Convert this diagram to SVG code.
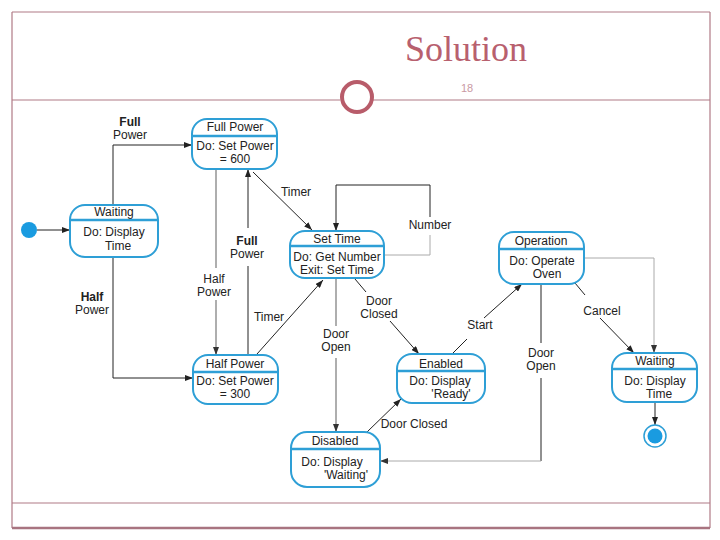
<svg xmlns="http://www.w3.org/2000/svg" width="720" height="540" viewBox="0 0 720 540">
<defs>
<marker id="arr" markerWidth="8" markerHeight="6" refX="8" refY="3" orient="auto" markerUnits="userSpaceOnUse">
<path d="M0,0 L8,3 L0,6 z" fill="#222"/>
</marker>
<marker id="arrg" markerWidth="8" markerHeight="6" refX="8" refY="3" orient="auto" markerUnits="userSpaceOnUse">
<path d="M0,0 L8,3 L0,6 z" fill="#333"/>
</marker>
</defs>
<style>
.frame{fill:none;stroke:#b07a85;stroke-width:1.2}
.box{fill:#fff;stroke:#2e9fd6;stroke-width:2}
.div{stroke:#2e9fd6;stroke-width:2.5}
.nt{font-family:"Liberation Sans",Arial,sans-serif;font-size:12px;fill:#222;text-anchor:middle}
.lb{font-family:"Liberation Sans",Arial,sans-serif;font-size:12px;fill:#222;text-anchor:middle}
.b{font-weight:bold}
.k{fill:none;stroke:#222;stroke-width:1}
.g{fill:none;stroke:#9a9a9a;stroke-width:1.6}
.gl{fill:none;stroke:#aaa;stroke-width:1}
</style>
<rect width="720" height="540" fill="#fff"/>
<g id="slide">
<line class="frame" x1="12" y1="12" x2="710" y2="12"/>
<line class="frame" x1="12" y1="12" x2="12" y2="528"/>
<line class="frame" x1="710" y1="12" x2="710" y2="528"/>
<line x1="12" y1="528" x2="710" y2="528" stroke="#a87480" stroke-width="2.5"/>
<line class="frame" x1="12" y1="503" x2="710" y2="503"/>
<line class="frame" x1="12" y1="100" x2="340" y2="100"/>
<line class="frame" x1="373" y1="100" x2="710" y2="100"/>
<circle cx="357" cy="97" r="15" fill="#fff" stroke="#b85c6a" stroke-width="4"/>
<text x="466" y="61" font-family="Liberation Serif,Times New Roman,serif" font-size="36" fill="#b8606e" text-anchor="middle">Solution</text>
<text x="467" y="92" font-family="Liberation Sans,Arial,sans-serif" font-size="11" fill="#c99aa3" text-anchor="middle">18</text>
</g>
<g id="connectors">
<line class="k" x1="37" y1="230" x2="70" y2="230" marker-end="url(#arr)"/>
<polyline class="k" points="113,205 113,145 192,145" marker-end="url(#arr)"/>
<polyline class="k" points="113,257 113,378 193,378" marker-end="url(#arr)"/>
<line class="g" x1="216" y1="169" x2="216" y2="268"/>
<line class="g" x1="216" y1="300" x2="216" y2="355" marker-end="url(#arrg)"/>
<line class="k" x1="248" y1="355" x2="248" y2="266"/>
<line class="k" x1="248" y1="228" x2="248" y2="169" marker-end="url(#arr)"/>
<line class="k" x1="253" y1="172" x2="312" y2="230" marker-end="url(#arr)"/>
<line class="k" x1="257" y1="354" x2="323" y2="280" marker-end="url(#arr)" stroke-width="0.8"/>
<polyline class="k" points="430,217 430,185 336,185 336,231" marker-end="url(#arr)"/>
<polyline class="gl" points="384,255 430,255 430,235"/>
<line class="g" x1="336" y1="278" x2="336" y2="326"/>
<line class="g" x1="336" y1="358" x2="336" y2="432" marker-end="url(#arrg)"/>
<line class="k" x1="355" y1="279" x2="366" y2="292"/>
<line class="k" x1="390" y1="321" x2="419" y2="354" marker-end="url(#arr)"/>
<line class="k" x1="453" y1="353" x2="467" y2="339" stroke-width="0.8"/>
<line class="k" x1="484" y1="318" x2="522" y2="284" marker-end="url(#arr)" stroke-width="0.8"/>
<polyline class="gl" points="584,258 654,258 654,353" marker-end="url(#arrg)"/>
<line class="k" x1="575" y1="283" x2="585" y2="295" stroke-width="0.8"/>
<line class="k" x1="600" y1="318" x2="634" y2="353" marker-end="url(#arr)" stroke-width="0.8"/>
<line class="k" x1="541" y1="285" x2="541" y2="343"/>
<line class="k" x1="541" y1="378" x2="541" y2="461"/>
<line class="gl" x1="541" y1="461" x2="380" y2="461" marker-end="url(#arrg)"/>
<line class="k" x1="367" y1="432" x2="401" y2="399" marker-end="url(#arr)" stroke-width="0.8"/>
<line class="k" x1="655" y1="402" x2="655" y2="425" marker-end="url(#arr)"/>
</g>
<g id="labels">
<text class="lb b" x="130" y="126">Full</text>
<text class="lb" x="130" y="139">Power</text>
<text class="lb b" x="92" y="301">Half</text>
<text class="lb" x="92" y="314">Power</text>
<text class="lb" x="214" y="283" fill="#555">Half</text>
<text class="lb" x="214" y="296" fill="#555">Power</text>
<text class="lb b" x="247" y="245">Full</text>
<text class="lb" x="247" y="258">Power</text>
<text class="lb" x="296" y="196">Timer</text>
<text class="lb" x="269" y="321">Timer</text>
<text class="lb" x="430" y="229">Number</text>
<text class="lb" x="379" y="305">Door</text>
<text class="lb" x="379" y="318">Closed</text>
<text class="lb" x="336" y="338">Door</text>
<text class="lb" x="336" y="351">Open</text>
<text class="lb" x="480" y="329">Start</text>
<text class="lb" x="602" y="315">Cancel</text>
<text class="lb" x="541" y="357">Door</text>
<text class="lb" x="541" y="370">Open</text>
<text class="lb" x="414" y="428">Door Closed</text>
</g>
<g id="initial"><circle cx="29" cy="230" r="8" fill="#1a9be0"/></g>
<g id="final"><circle cx="655" cy="436" r="11" fill="#fff" stroke="#2e9fd6" stroke-width="1.5"/><circle cx="655" cy="436" r="7.5" fill="#1a9be0"/></g>
<g id="full-power">
<rect class="box" x="192" y="119" width="85" height="50" rx="15"/>
<line class="div" x1="193" y1="136" x2="276" y2="136"/>
<text class="nt" x="235" y="131">Full Power</text>
<text class="nt" x="235" y="150">Do: Set Power</text>
<text class="nt" x="235" y="163">= 600</text>
</g>
<g id="waiting-1">
<rect class="box" x="70" y="205" width="88" height="52" rx="15"/>
<line class="div" x1="71" y1="220" x2="157" y2="220"/>
<text class="nt" x="114" y="216">Waiting</text>
<text class="nt" x="114" y="236">Do: Display</text>
<text class="nt" x="118" y="250">Time</text>
</g>
<g id="set-time">
<rect class="box" x="290" y="231" width="94" height="47" rx="15"/>
<line class="div" x1="291" y1="246" x2="383" y2="246"/>
<text class="nt" x="337" y="243">Set Time</text>
<text class="nt" x="337" y="261">Do: Get Number</text>
<text class="nt" x="337" y="274">Exit: Set Time</text>
</g>
<g id="operation">
<rect class="box" x="499" y="232" width="85" height="52" rx="15"/>
<line class="div" x1="500" y1="249" x2="583" y2="249"/>
<text class="nt" x="541" y="245">Operation</text>
<text class="nt" x="542" y="265">Do: Operate</text>
<text class="nt" x="547" y="278">Oven</text>
</g>
<g id="half-power">
<rect class="box" x="193" y="355" width="85" height="49" rx="15"/>
<line class="div" x1="194" y1="372" x2="277" y2="372"/>
<text class="nt" x="235" y="368">Half Power</text>
<text class="nt" x="235" y="385">Do: Set Power</text>
<text class="nt" x="235" y="398">= 300</text>
</g>
<g id="enabled">
<rect class="box" x="397" y="354" width="88" height="49" rx="15"/>
<line class="div" x1="398" y1="371" x2="484" y2="371"/>
<text class="nt" x="441" y="368">Enabled</text>
<text class="nt" x="440" y="385">Do: Display</text>
<text class="nt" x="451" y="398">'Ready'</text>
</g>
<g id="disabled">
<rect class="box" x="291" y="432" width="89" height="55" rx="16"/>
<line class="div" x1="292" y1="449" x2="379" y2="449"/>
<text class="nt" x="335" y="445">Disabled</text>
<text class="nt" x="332" y="466">Do: Display</text>
<text class="nt" x="346" y="479">'Waiting'</text>
</g>
<g id="waiting-2">
<rect class="box" x="612" y="353" width="85" height="49" rx="15"/>
<line class="div" x1="613" y1="369" x2="696" y2="369"/>
<text class="nt" x="655" y="365">Waiting</text>
<text class="nt" x="655" y="385">Do: Display</text>
<text class="nt" x="659" y="398">Time</text>
</g>
</svg>
